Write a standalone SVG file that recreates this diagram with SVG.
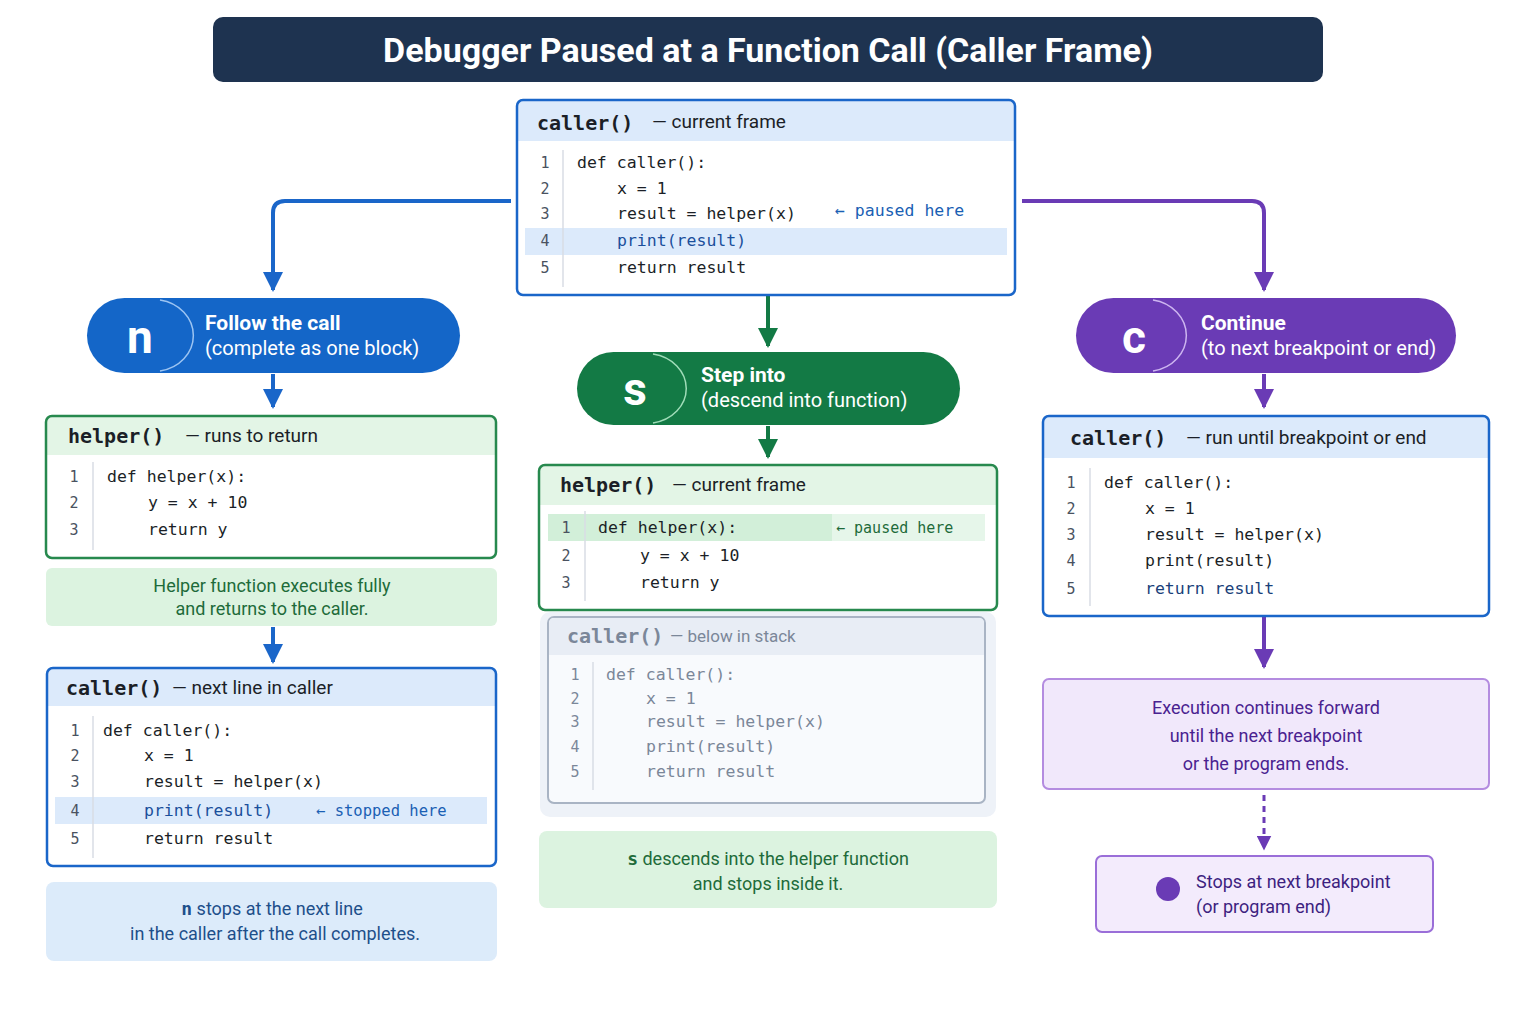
<svg xmlns="http://www.w3.org/2000/svg" width="1536" height="1024" viewBox="0 0 1536 1024">
<defs>
<style>
.sans{font-family:"Roboto","Liberation Sans",sans-serif}
.mono{font-family:"DejaVu Sans Mono","Liberation Mono",monospace;font-size:16.5px;fill:#1b1f27}
.num{font-family:"DejaVu Sans Mono",monospace;font-size:15px;fill:#4a5260}
.ft{font-family:"DejaVu Sans Mono",monospace;font-size:20px;font-weight:bold;fill:#1b1f27}
.fs{font-family:"Roboto","Liberation Sans",sans-serif;font-size:19px;fill:#1b1f27}
.pt{font-family:"Roboto","Liberation Sans",sans-serif;font-size:21px;font-weight:bold;fill:#fff}
.ps{font-family:"Roboto","Liberation Sans",sans-serif;font-size:20px;fill:#fff}
.pl{font-family:"Roboto","Liberation Sans",sans-serif;font-size:46px;font-weight:bold;fill:#fff;text-anchor:middle}
.blue{fill:none;stroke:#1a66c9;stroke-width:4}
.green{fill:none;stroke:#137a45;stroke-width:4}
.purple{fill:none;stroke:#6a3bb5;stroke-width:4}
.note{font-family:"Roboto","Liberation Sans",sans-serif;font-size:18px;text-anchor:middle}
</style>
<marker id="mb" viewBox="0 0 10 10" refX="5" refY="8" markerWidth="5" markerHeight="5" orient="auto-start-reverse" markerUnits="strokeWidth"><path d="M0,0 L10,5 L0,10 z" fill="#1a66c9" transform="rotate(0)"/></marker>
<marker id="ab" viewBox="0 0 10 10" refX="9" refY="5" markerWidth="5" markerHeight="5" orient="auto"><path d="M0,0 L10,5 L0,10 z" fill="#1a66c9"/></marker>
<marker id="ag" viewBox="0 0 10 10" refX="9" refY="5" markerWidth="5" markerHeight="5" orient="auto"><path d="M0,0 L10,5 L0,10 z" fill="#137a45"/></marker>
<marker id="ap" viewBox="0 0 10 10" refX="9" refY="5" markerWidth="5" markerHeight="5" orient="auto"><path d="M0,0 L10,5 L0,10 z" fill="#6a3bb5"/></marker>
</defs>
<rect width="1536" height="1024" fill="#fff"/>

<g id="title">
<rect x="213" y="17" width="1110" height="65" rx="10" fill="#1e3350"/>
<text x="768" y="62" text-anchor="middle" class="sans" font-size="34" font-weight="bold" fill="#fff">Debugger Paused at a Function Call (Caller Frame)</text>
</g>

<g id="connectors">
<path d="M511,201 H285 Q273,201 273,213 V290" class="blue" marker-end="url(#ab)"/>
<path d="M1022,201 H1252 Q1264,201 1264,213 V290" class="purple" marker-end="url(#ap)"/>
<path d="M768,296 V346" class="green" marker-end="url(#ag)"/>
<path d="M273,374 V407" class="blue" marker-end="url(#ab)"/>
<path d="M768,426 V457" class="green" marker-end="url(#ag)"/>
<path d="M273,627 V662" class="blue" marker-end="url(#ab)"/>
<path d="M1264,374 V407" class="purple" marker-end="url(#ap)"/>
<path d="M1264,617 V667" class="purple" marker-end="url(#ap)"/>
<path d="M1264,795 V849" fill="none" stroke="#6a3bb5" stroke-width="3" stroke-dasharray="6,5" marker-end="url(#ap)"/>
</g>

<g id="top-frame">
<rect x="517" y="100" width="498" height="195" rx="6" fill="#fff"/>
<path d="M517,141 V106 Q517,100 523,100 H1009 Q1015,100 1015,106 V141 Z" fill="#dceafb"/>
<rect x="525" y="228" width="482" height="27" fill="#dceafb"/>
<rect x="517" y="100" width="498" height="195" rx="6" fill="none" stroke="#1a66c9" stroke-width="2.5"/>
<text x="537" y="130" class="ft">caller()</text><text x="652" y="128" class="fs">— current frame</text>
<line x1="563" y1="150" x2="563" y2="287" stroke="#d8dde5" stroke-width="1.5"/>
<text x="545" y="168" class="num" text-anchor="middle">1</text><text x="545" y="194" class="num" text-anchor="middle">2</text><text x="545" y="219" class="num" text-anchor="middle">3</text><text x="545" y="246" class="num" text-anchor="middle">4</text><text x="545" y="273" class="num" text-anchor="middle">5</text>
<text x="577" y="168" class="mono">def caller():</text>
<text x="617" y="194" class="mono">x = 1</text>
<text x="617" y="219" class="mono">result = helper(x)</text>
<text x="617" y="246" class="mono" fill="#1a4f9c" style="fill:#1a4f9c">print(result)</text>
<text x="617" y="273" class="mono">return result</text>
<text x="835" y="216" class="mono" style="fill:#1a5fb4">← paused here</text>
</g>

<g id="pill-n">
<rect x="87" y="298" width="373" height="75" rx="37.5" fill="#1466c8"/>
<path d="M160,300 A40,36 0 0 1 160,371" fill="none" stroke="#9cc4f2" stroke-width="1.5"/>
<text x="140" y="353" class="pl">n</text>
<text x="205" y="330" class="pt">Follow the call</text>
<text x="205" y="355" class="ps">(complete as one block)</text>
</g>

<g id="left-helper">
<rect x="46" y="416" width="450" height="142" rx="6" fill="#fff"/>
<path d="M46,455 V422 Q46,416 52,416 H490 Q496,416 496,422 V455 Z" fill="#e3f5e6"/>
<rect x="46" y="416" width="450" height="142" rx="6" fill="none" stroke="#27894e" stroke-width="2.5"/>
<text x="68" y="443" class="ft">helper()</text><text x="185" y="442" class="fs">— runs to return</text>
<line x1="93" y1="462" x2="93" y2="550" stroke="#d8dde5" stroke-width="1.5"/>
<text x="74" y="482" class="num" text-anchor="middle">1</text><text x="74" y="508" class="num" text-anchor="middle">2</text><text x="74" y="535" class="num" text-anchor="middle">3</text>
<text x="107" y="482" class="mono">def helper(x):</text>
<text x="148" y="508" class="mono">y = x + 10</text>
<text x="148" y="535" class="mono">return y</text>
</g>

<g id="left-note1">
<rect x="46" y="568" width="451" height="58" rx="6" fill="#dcf3e0"/>
<text x="272" y="592" class="note" fill="#1e6b3a">Helper function executes fully</text>
<text x="272" y="615" class="note" fill="#1e6b3a">and returns to the caller.</text>
</g>

<g id="left-caller">
<rect x="47" y="668" width="449" height="198" rx="6" fill="#fff"/>
<path d="M47,706 V674 Q47,668 53,668 H490 Q496,668 496,674 V706 Z" fill="#dceafb"/>
<rect x="55" y="797" width="432" height="27" fill="#dceafb"/>
<rect x="47" y="668" width="449" height="198" rx="6" fill="none" stroke="#1a66c9" stroke-width="2.5"/>
<text x="66" y="695" class="ft">caller()</text><text x="172" y="694" class="fs">— next line in caller</text>
<line x1="93" y1="716" x2="93" y2="858" stroke="#d8dde5" stroke-width="1.5"/>
<text x="75" y="736" class="num" text-anchor="middle">1</text><text x="75" y="761" class="num" text-anchor="middle">2</text><text x="75" y="787" class="num" text-anchor="middle">3</text><text x="75" y="816" class="num" text-anchor="middle">4</text><text x="75" y="844" class="num" text-anchor="middle">5</text>
<text x="103" y="736" class="mono">def caller():</text>
<text x="144" y="761" class="mono">x = 1</text>
<text x="144" y="787" class="mono">result = helper(x)</text>
<text x="144" y="816" class="mono" style="fill:#1a4f9c">print(result)</text>
<text x="144" y="844" class="mono">return result</text>
<text x="316" y="816" class="mono" style="fill:#1a5fb4;font-size:15.5px">← stopped here</text>
</g>

<g id="left-note2">
<rect x="46" y="882" width="451" height="79" rx="8" fill="#dcebfa"/>
<text x="272" y="915" class="note" fill="#1e4f8a"><tspan font-family="DejaVu Sans Mono,monospace" font-weight="bold">n</tspan>  stops at the next line</text>
<text x="275" y="940" class="note" fill="#1e4f8a">in the caller after the call completes.</text>
</g>

<g id="pill-s">
<rect x="577" y="352" width="383" height="73" rx="36.5" fill="#137a45"/>
<path d="M653,354 A40,35 0 0 1 653,423" fill="none" stroke="#9fdcb8" stroke-width="1.5"/>
<text x="635" y="405" class="pl">s</text>
<text x="701" y="382" class="pt">Step into</text>
<text x="701" y="407" class="ps">(descend into function)</text>
</g>

<g id="stack-caller">
<rect x="540" y="612" width="456" height="205" rx="10" fill="#eef2f8"/>
<rect x="548" y="617" width="437" height="186" rx="6" fill="#f8fafd" stroke="#a9b4c4" stroke-width="2"/>
<path d="M549,655 V623 Q549,618 554,618 H979 Q984,618 984,623 V655 Z" fill="#e8edf5"/>
<text x="567" y="643" class="ft" style="fill:#7b8799">caller()</text><text x="670" y="642" class="fs" style="fill:#7b8799;font-size:17px">— below in stack</text>
<line x1="593" y1="662" x2="593" y2="790" stroke="#d8dde5" stroke-width="1.5"/>
<text x="575" y="680" class="num" text-anchor="middle" style="fill:#7b8799">1</text><text x="575" y="704" class="num" text-anchor="middle" style="fill:#7b8799">2</text><text x="575" y="727" class="num" text-anchor="middle" style="fill:#7b8799">3</text><text x="575" y="752" class="num" text-anchor="middle" style="fill:#7b8799">4</text><text x="575" y="777" class="num" text-anchor="middle" style="fill:#7b8799">5</text>
<text x="606" y="680" class="mono" style="fill:#7b8799">def caller():</text>
<text x="646" y="704" class="mono" style="fill:#7b8799">x = 1</text>
<text x="646" y="727" class="mono" style="fill:#7b8799">result = helper(x)</text>
<text x="646" y="752" class="mono" style="fill:#7b8799">print(result)</text>
<text x="646" y="777" class="mono" style="fill:#7b8799">return result</text>
</g>

<g id="helper-frame">
<rect x="539" y="465" width="458" height="145" rx="6" fill="#fff"/>
<path d="M539,505 V471 Q539,465 545,465 H991 Q997,465 997,471 V505 Z" fill="#e3f5e6"/>
<rect x="548" y="514" width="437" height="27" fill="#e6f6ea"/>
<rect x="548" y="514" width="284" height="27" fill="#d2efd9"/>
<rect x="539" y="465" width="458" height="145" rx="6" fill="none" stroke="#27894e" stroke-width="2.5"/>
<text x="560" y="492" class="ft">helper()</text><text x="672" y="491" class="fs">— current frame</text>
<line x1="585" y1="511" x2="585" y2="601" stroke="#d8dde5" stroke-width="1.5"/>
<text x="566" y="533" class="num" text-anchor="middle">1</text><text x="566" y="561" class="num" text-anchor="middle">2</text><text x="566" y="588" class="num" text-anchor="middle">3</text>
<text x="598" y="533" class="mono">def helper(x):</text>
<text x="640" y="561" class="mono">y = x + 10</text>
<text x="640" y="588" class="mono">return y</text>
<text x="836" y="533" class="mono" style="fill:#1e6b3a;font-size:15px">← paused here</text>
</g>

<g id="center-note">
<rect x="539" y="831" width="458" height="77" rx="8" fill="#dcf3e0"/>
<text x="768" y="865" class="note" fill="#1e6b3a"><tspan font-family="DejaVu Sans Mono,monospace" font-weight="bold">s</tspan>  descends into the helper function</text>
<text x="768" y="890" class="note" fill="#1e6b3a">and stops inside it.</text>
</g>

<g id="pill-c">
<rect x="1076" y="298" width="380" height="75" rx="37.5" fill="#6a3bb5"/>
<path d="M1153,300 A40,36 0 0 1 1153,371" fill="none" stroke="#cdb5f0" stroke-width="1.5"/>
<text x="1134" y="353" class="pl">c</text>
<text x="1201" y="330" class="pt">Continue</text>
<text x="1201" y="355" class="ps">(to next breakpoint or end)</text>
</g>

<g id="right-caller">
<rect x="1043" y="416" width="446" height="200" rx="6" fill="#fff"/>
<path d="M1043,458 V422 Q1043,416 1049,416 H1483 Q1489,416 1489,422 V458 Z" fill="#dceafb"/>
<rect x="1043" y="416" width="446" height="200" rx="6" fill="none" stroke="#1a66c9" stroke-width="2.5"/>
<text x="1070" y="445" class="ft">caller()</text><text x="1186" y="444" class="fs">— run until breakpoint or end</text>
<line x1="1090" y1="468" x2="1090" y2="606" stroke="#d8dde5" stroke-width="1.5"/>
<text x="1071" y="488" class="num" text-anchor="middle">1</text><text x="1071" y="514" class="num" text-anchor="middle">2</text><text x="1071" y="540" class="num" text-anchor="middle">3</text><text x="1071" y="566" class="num" text-anchor="middle">4</text><text x="1071" y="594" class="num" text-anchor="middle">5</text>
<text x="1104" y="488" class="mono">def caller():</text>
<text x="1145" y="514" class="mono">x = 1</text>
<text x="1145" y="540" class="mono">result = helper(x)</text>
<text x="1145" y="566" class="mono">print(result)</text>
<text x="1145" y="594" class="mono" style="fill:#1a3f7a">return result</text>
</g>

<g id="right-note">
<rect x="1043" y="679" width="446" height="110" rx="6" fill="#f1e8fb" stroke="#b48ce0" stroke-width="2"/>
<text x="1266" y="714" class="note" font-size="20" fill="#4a2290">Execution continues forward</text>
<text x="1266" y="742" class="note" font-size="20" fill="#4a2290">until the next breakpoint</text>
<text x="1266" y="770" class="note" font-size="20" fill="#4a2290">or the program ends.</text>
</g>

<g id="stop-box">
<rect x="1096" y="856" width="337" height="76" rx="6" fill="#f3ebfc" stroke="#9a6ed8" stroke-width="2"/>
<circle cx="1168" cy="889" r="12" fill="#6a3bb5"/>
<text x="1196" y="888" class="sans" font-size="18" fill="#3d1f80">Stops at next breakpoint</text>
<text x="1196" y="913" class="sans" font-size="18" fill="#3d1f80">(or program end)</text>
</g>
</svg>
